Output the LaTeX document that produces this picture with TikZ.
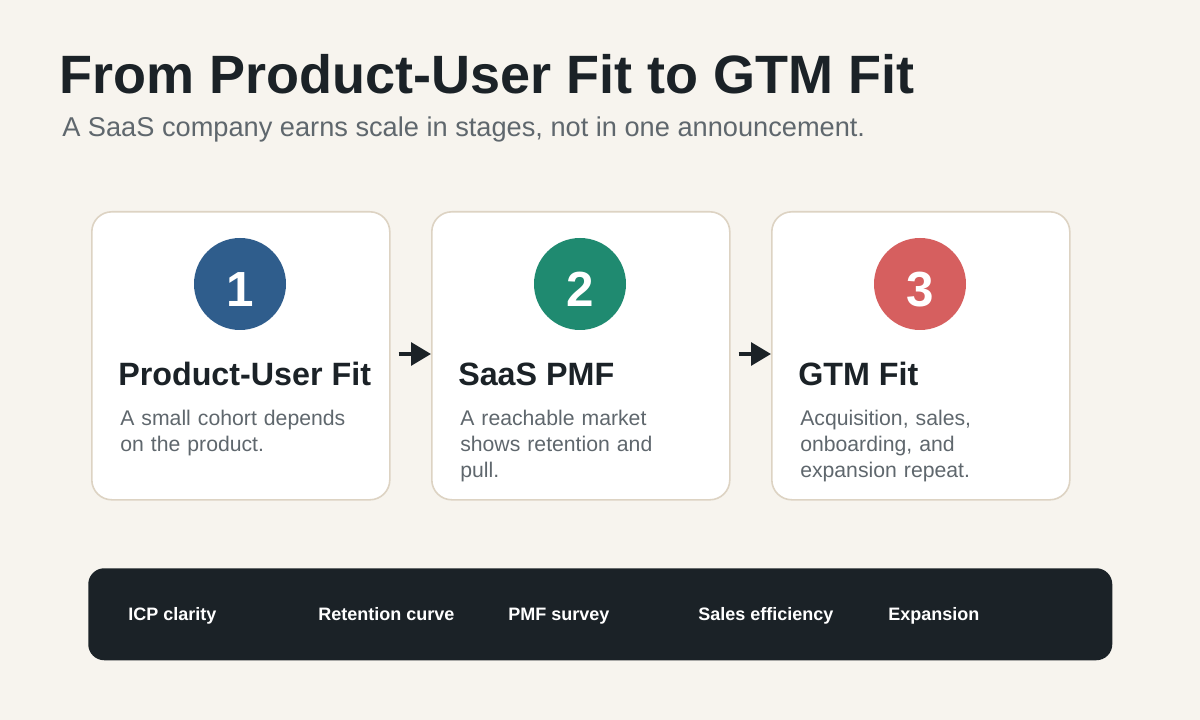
\documentclass[tikz,border=0pt]{standalone}
\usepackage{fontspec}
\setmainfont{Liberation Sans}
\usetikzlibrary{arrows.meta,positioning}

\definecolor{paper}{HTML}{F7F4EE}
\definecolor{ink}{HTML}{1B2227}
\definecolor{muted}{HTML}{5F676D}
\definecolor{rim}{HTML}{DDD3C3}
\definecolor{stageblue}{HTML}{2F5D8C}
\definecolor{stagegreen}{HTML}{1F8A70}
\definecolor{stagered}{HTML}{D65F5F}

\tikzset{
  card/.style={draw=rim, line width=1.2pt, fill=white, rounded corners=15pt,
    minimum width=223.5pt, minimum height=216pt, anchor=north west},
  badge/.style={circle, minimum size=69pt, inner sep=0pt, text=white,
    text height=34pt, text depth=0pt,
    font=\bfseries\fontsize{37}{37}\selectfont},
  cardtitle/.style={anchor=base west, inner sep=0pt, text=ink,
    font=\bfseries\fontsize{24.2}{24.2}\selectfont},
  cardbody/.style={anchor=north west, inner sep=0pt, align=left, text=muted,
    text width=200pt, font=\fontsize{15.9}{19.5}\selectfont},
  chip/.style={anchor=base west, inner sep=0pt, text=white,
    font=\bfseries\fontsize{13.5}{13.5}\selectfont},
  flow/.style={line width=3pt, draw=ink, -{Triangle[length=15pt,width=17pt]},
    shorten <=6pt}
}

\begin{document}
\begin{tikzpicture}[x=0.75pt, y=-0.75pt]
\fill[paper] (0,0) rectangle (1200,720);
\useasboundingbox (0,0) rectangle (1200,720);

% heading
\node[anchor=base west, inner sep=0pt, text=ink, font=\bfseries\fontsize{40.5}{40.5}\selectfont] (title) at (59,94) {From Product-User Fit to GTM Fit};
\node[anchor=base west, inner sep=0pt, text=muted, font=\fontsize{20.4}{20.4}\selectfont] (subtitle) at (62,137) {A SaaS company earns scale in stages, not in one announcement.};

% stage cards
\node[card] (card1) at (91,211) {};
\node[card] (card2) at (431,211) {};
\node[card] (card3) at (771,211) {};

\node[badge, fill=stageblue] (num1) at (240,284) {1};
\node[badge, fill=stagegreen] (num2) at (580,284) {2};
\node[badge, fill=stagered] (num3) at (920,284) {3};

\node[cardtitle] (head1) at (118,386) {Product-User Fit};
\node[cardtitle] (head2) at (458,386) {SaaS PMF};
\node[cardtitle] (head3) at (798,386) {GTM Fit};

\node[cardbody] (body1) at (120,410) {A small cohort depends\\on the product.};
\node[cardbody] (body2) at (460,410) {A reachable market\\shows retention and\\pull.};
\node[cardbody] (body3) at (800,410) {Acquisition, sales,\\onboarding, and\\expansion repeat.};

\coordinate (out1) at (card1.east |- 0,354);
\coordinate (in2) at (card2.west |- 0,354);
\coordinate (out2) at (card2.east |- 0,354);
\coordinate (in3) at (card3.west |- 0,354);
\draw[flow] (out1) -- (in2);
\draw[flow] (out2) -- (in3);

% signal bar
\node[fill=ink, rounded corners=12pt, minimum width=768pt, minimum height=69pt, anchor=north west] (bar) at (88,568) {};
\node[chip] (sig1) at (128,620) {ICP clarity};
\node[chip] (sig2) at (318,620) {Retention curve};
\node[chip] (sig3) at (508,620) {PMF survey};
\node[chip] (sig4) at (698,620) {Sales efficiency};
\node[chip] (sig5) at (888,620) {Expansion};
\end{tikzpicture}
\end{document}
